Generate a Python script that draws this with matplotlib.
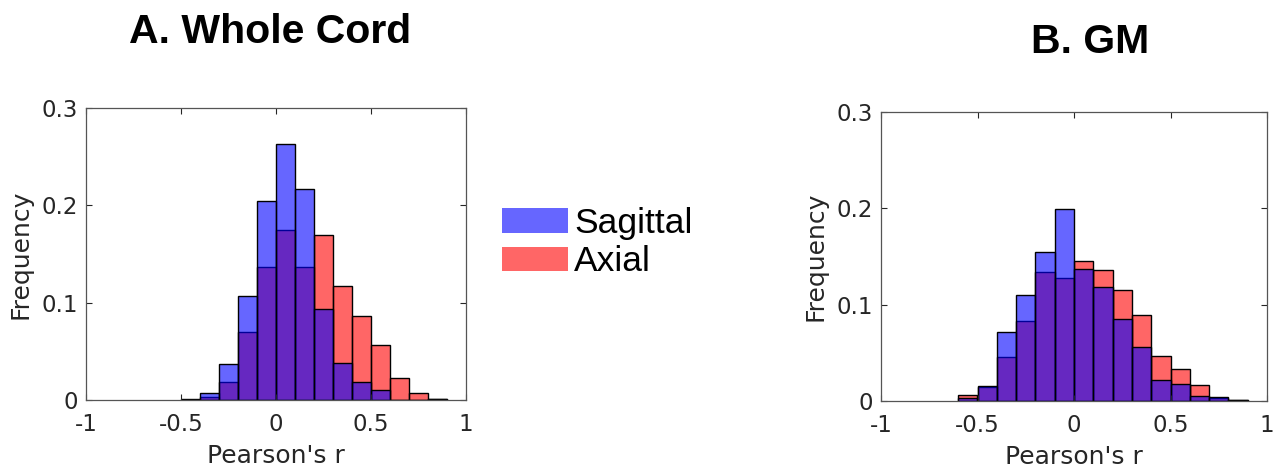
import numpy as np
import matplotlib
matplotlib.use("Agg")
import matplotlib.pyplot as plt

# ---- data ----
bins_A = [-0.5, -0.4, -0.3, -0.2, -0.1, 0.0, 0.1, 0.2, 0.3, 0.4, 0.5, 0.6, 0.7, 0.8]
sagittal_A = [0.001, 0.0075, 0.037, 0.107, 0.204, 0.263, 0.217, 0.094, 0.038, 0.019, 0.010, 0.0, 0.0, 0.001]
axial_A = [0.0, 0.003, 0.018, 0.070, 0.137, 0.175, 0.137, 0.170, 0.117, 0.086, 0.057, 0.023, 0.007, 0.001]

bins_B = [-0.6, -0.5, -0.4, -0.3, -0.2, -0.1, 0.0, 0.1, 0.2, 0.3, 0.4, 0.5, 0.6, 0.7, 0.8]
sagittal_B = [0.0035, 0.016, 0.072, 0.110, 0.155, 0.199, 0.137, 0.118, 0.085, 0.0565, 0.022, 0.018, 0.005, 0.004, 0.001]
axial_B = [0.0066, 0.015, 0.046, 0.083, 0.134, 0.128, 0.145, 0.136, 0.115, 0.0895, 0.047, 0.0336, 0.0166, 0.003, 0.001]

bin_width = 0.1
xticks = [-1, -0.5, 0, 0.5, 1]
xticklabels = ["-1", "-0.5", "0", "0.5", "1"]
yticks = [0, 0.1, 0.2, 0.3]
yticklabels = ["0", "0.1", "0.2", "0.3"]
titles = ["A. Whole Cord", "B. GM"]
series_names = ["Sagittal", "Axial"]

W, H = 1282, 473
fig = plt.figure(figsize=(W / 100, H / 100), dpi=100)

def px_axes(x0, y0, x1, y1):
    return fig.add_axes([x0 / W, 1 - y1 / H, (x1 - x0) / W, (y1 - y0) / H])

axA = px_axes(86, 108, 466, 400)
axB = px_axes(881, 112, 1267, 401)

txt = "#262626"
handles = None
for ax, bins, sag, axi in [(axA, bins_A, sagittal_A, axial_A), (axB, bins_B, sagittal_B, axial_B)]:
    hr = ax.bar(bins, axi, width=bin_width, align="edge", color=(1, 0, 0, 0.6),
                edgecolor="black", linewidth=1.0, label=series_names[1])
    hb = ax.bar(bins, sag, width=bin_width, align="edge", color=(0, 0, 1, 0.6),
                edgecolor="black", linewidth=1.0, label=series_names[0])
    handles = (hb, hr)
    ax.set_xlim(-1, 1)
    ax.set_ylim(0, 0.3)
    ax.set_xticks(xticks)
    ax.set_xticklabels(xticklabels)
    ax.set_yticks(yticks)
    ax.set_yticklabels(yticklabels)
    ax.tick_params(direction="in", top=True, right=True, length=4, width=0.8,
                   labelsize=16.5, colors=txt, pad=6)
    ax.tick_params(axis="x", pad=9)
    for s in ax.spines.values():
        s.set_color("#555555")
        s.set_linewidth(0.9)
    ax.set_xlabel("Pearson's r", fontsize=18, color=txt, labelpad=6)
    ax.set_ylabel("Frequency", fontsize=18, color=txt, labelpad=6)
    for lab in ax.get_xticklabels() + ax.get_yticklabels():
        lab.set_family("DejaVu Sans")

fig.text(270 / W, 1 - 43 / H, titles[0], fontsize=29.5, fontweight="bold",
         family="Liberation Sans", ha="center", va="baseline", color="black")
fig.text(1090 / W, 1 - 53 / H, titles[1], fontsize=29.5, fontweight="bold",
         family="Liberation Sans", ha="center", va="baseline", color="black")

leg = fig.legend(handles, series_names, loc="upper left",
                 bbox_to_anchor=(502 / W, 1 - 207 / H), frameon=False,
                 prop={"family": "Liberation Sans", "size": 25.5},
                 handlelength=1.86, handleheight=0.68, handletextpad=0.17,
                 labelspacing=0.15, borderpad=0, borderaxespad=0)
for p in leg.get_patches():
    p.set_edgecolor("none")

fig.savefig("out.png", dpi=100)
